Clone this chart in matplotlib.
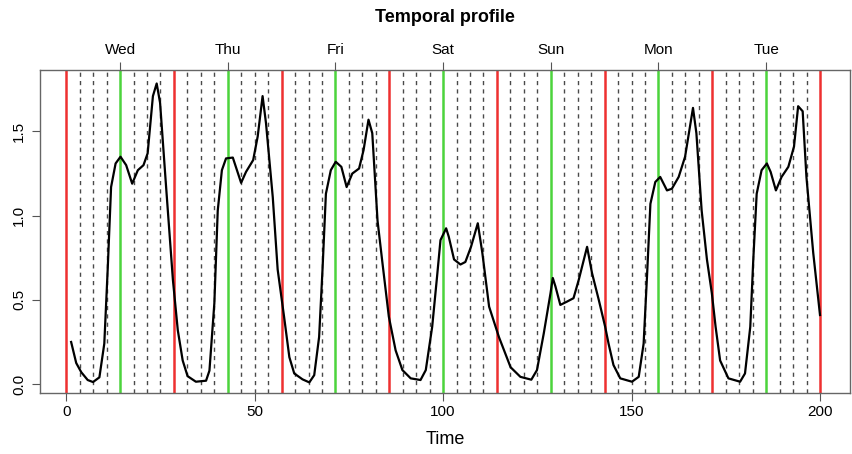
import numpy as np
import matplotlib.pyplot as plt

plt.rcParams['font.family'] = ['Liberation Sans Narrow', 'Liberation Sans', 'DejaVu Sans']

# curve (time, value)
time = [1.3, 2.65, 4.0, 5.7, 7.1, 8.8, 10.1, 11.0, 11.9, 13.1, 14.4, 15.9, 17.5, 19.0, 20.5, 21.6, 23.0,
        24.0, 24.9, 26.5, 28.3, 29.6, 30.9, 32.2, 34.4, 37.1, 38.0, 39.3, 40.2, 41.3, 42.4, 44.2, 46.4,
        47.7, 49.6, 50.8, 52.1, 53.0, 54.8, 56.1, 57.8, 59.2, 60.5, 62.7, 64.5, 65.8, 67.1, 68.0, 68.9,
        70.2, 71.5, 73.0, 74.4, 75.9, 77.7, 78.9, 80.2, 81.2, 82.6, 83.9, 85.6, 87.4, 89.2, 91.4, 94.0,
        95.4, 97.1, 98.4, 99.3, 100.8, 101.5, 102.9, 104.6, 105.9, 107.4, 109.2, 110.4, 112.2, 114.8,
        117.9, 120.5, 123.4, 124.9, 126.7, 128.5, 129.1, 129.8, 131.1, 132.9, 134.6, 136.0, 138.2,
        139.5, 141.3, 143.0, 143.9, 145.2, 147.0, 150.1, 151.9, 153.2, 154.1, 155.0, 156.3, 157.6,
        159.4, 160.7, 162.5, 164.2, 166.3, 167.2, 168.6, 170.0, 171.3, 172.3, 173.5, 175.7, 178.8,
        180.1, 181.5, 182.3, 183.2, 184.5, 185.9, 186.9, 188.3, 189.8, 191.6, 193.1, 194.2, 195.4,
        196.4, 198.2, 200.0]
value = [0.25, 0.125, 0.07, 0.024, 0.012, 0.04, 0.24, 0.68, 1.17, 1.31, 1.35, 1.30, 1.19, 1.27, 1.30,
         1.37, 1.71, 1.785, 1.67, 1.17, 0.62, 0.32, 0.14, 0.047, 0.014, 0.02, 0.08, 0.48, 1.03, 1.27,
         1.34, 1.345, 1.195, 1.26, 1.33, 1.47, 1.71, 1.55, 1.11, 0.68, 0.40, 0.16, 0.063, 0.028, 0.01,
         0.053, 0.28, 0.68, 1.13, 1.27, 1.32, 1.29, 1.17, 1.25, 1.28, 1.39, 1.57, 1.49, 0.97, 0.72,
         0.40, 0.20, 0.083, 0.034, 0.024, 0.083, 0.34, 0.64, 0.855, 0.925, 0.875, 0.74, 0.71, 0.725,
         0.815, 0.955, 0.78, 0.46, 0.28, 0.10, 0.043, 0.026, 0.083, 0.30, 0.54, 0.63, 0.58, 0.47, 0.49,
         0.51, 0.62, 0.815, 0.66, 0.50, 0.34, 0.24, 0.113, 0.034, 0.014, 0.043, 0.24, 0.64, 1.07, 1.20,
         1.23, 1.15, 1.16, 1.23, 1.35, 1.64, 1.49, 1.03, 0.74, 0.54, 0.34, 0.14, 0.034, 0.014, 0.063,
         0.34, 0.74, 1.13, 1.27, 1.31, 1.26, 1.15, 1.23, 1.29, 1.41, 1.65, 1.62, 1.23, 0.78, 0.41]

day_labels = ['Wed', 'Thu', 'Fri', 'Sat', 'Sun', 'Mon', 'Tue']
t_end = 200
n_days = len(day_labels)
day_len = t_end / n_days
n_sub = 8  # 3 hour slots per day

fig = plt.figure(figsize=(8.52, 4.54), dpi=100)
ax = fig.add_axes([40 / 852, 1 - 393 / 454, 810 / 852, 323 / 454])

# vertical guides: red = midnight, green = midday, dashed = 3h slots
for k in range(n_days * n_sub + 1):
    xv = k * day_len / n_sub
    if k % n_sub == 0:
        ax.axvline(xv, color='#ee3030', lw=1.8, zorder=2)
    elif k % (n_sub // 2) == 0:
        ax.axvline(xv, color='#4cd43c', lw=1.8, zorder=2)
    else:
        ax.axvline(xv, color='#4a4a4a', lw=1.0, ls=(0, (3, 3)), zorder=1)

ax.plot(time, value, color='k', lw=1.6, zorder=3)

ax.set_xlim(1 - 0.04 * 199, 200 + 0.04 * 199)
ax.set_ylim(-0.053, 1.865)
ax.set_xticks([0, 50, 100, 150, 200])
ax.set_yticks([0.0, 0.5, 1.0, 1.5])
ax.set_yticklabels(['0.0', '0.5', '1.0', '1.5'], rotation=90, va='center')
ax.tick_params(axis='both', length=6, width=0.8, color='#555555', labelsize=11, pad=3)
ax.tick_params(axis='y', pad=4)
for sp in ax.spines.values():
    sp.set_color('#666666')
    sp.set_linewidth(1.0)

top = ax.secondary_xaxis('top')
top.set_xticks([(d + 0.5) * day_len for d in range(n_days)])
top.set_xticklabels(day_labels)
top.tick_params(length=6, width=0.8, color='#555555', labelsize=11, pad=3)
top.spines['top'].set_visible(False)

ax.set_xlabel('Time', fontsize=13, labelpad=8)
fig.text(445 / 852, 1 - 18 / 454, 'Temporal profile', ha='center', va='center',
         fontsize=13, fontweight='bold')

fig.savefig('out.png', dpi=100)
